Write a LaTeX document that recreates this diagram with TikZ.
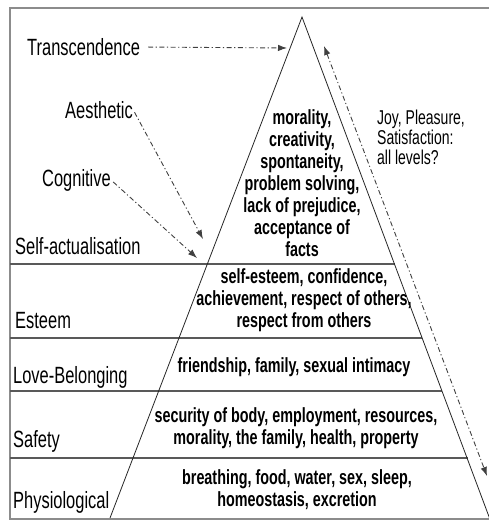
\documentclass[tikz,border=0pt]{standalone}
\usepackage{fontspec}
\setmainfont{Liberation Sans}[FakeStretch=0.70]
\usetikzlibrary{arrows.meta}

\begin{document}
\begin{tikzpicture}[x=1pt,y=-1pt,>={Latex[length=9pt,width=6.5pt]},
                    frame/.style={draw=black!45,line width=1.6pt},
                    level/.style={draw=black!65,line width=1.3pt},
                    side/.style={draw=black!85,line width=0.8pt},
                    dashdot/.style={draw=black!75,line width=0.9pt,
                      dash pattern=on 5pt off 2.5pt on 1.2pt off 2.5pt},
                    lbl/.style={anchor=base west,inner sep=0pt,
                      font=\fontsize{23.5}{25}\selectfont},
                    need/.style={align=center,inner sep=0pt,
                      font=\fontsize{20.5}{22}\selectfont\bfseries}]

  \useasboundingbox (0,0) rectangle (489,522);

  % frame and levels
  \draw[frame] (489,8) -- (10,8) -- (10,519) -- (489,519);
  \draw[level] (10,264) -- (394.7,264);
  \draw[level] (10,338) -- (422.4,338);
  \draw[level] (10,391) -- (442.3,391);
  \draw[level] (10,458) -- (467.5,458);

  % pyramid
  \coordinate (apex) at (302,17);
  \coordinate (bl) at (110,518);
  \coordinate (br) at (489.5,518);
  \draw[side] (bl) -- (apex) -- (br);

  % level names
  \node[lbl] (t)  at (27,55)  {Transcendence};
  \node[lbl] (ae) at (65,118) {Aesthetic};
  \node[lbl] (co) at (42,186) {Cognitive};
  \node[lbl] (sa) at (15,254) {Self-actualisation};
  \node[lbl] (es) at (15,328) {Esteem};
  \node[lbl] (lb) at (13,383) {Love-Belonging};
  \node[lbl] (sf) at (13,447) {Safety};
  \node[lbl] (ph) at (13,508) {Physiological};

  % needs inside the pyramid
  \node[need] (top)  at (302,183) {morality,\\creativity,\\spontaneity,\\problem solving,\\lack of prejudice,\\acceptance of\\facts};
  \node[need] (est)  at (304,300) {self-esteem, confidence,\\achievement, respect of others,\\respect from others};
  \node[need] (love) at (294,367) {friendship, family, sexual intimacy};
  \node[need] (safe) at (296,428) {security of body, employment, resources,\\morality, the family, health, property};
  \node[need] (phys) at (297,490) {breathing, food, water, sex, sleep,\\homeostasis, excretion};

  \node[anchor=west,align=left,inner sep=0pt,font=\fontsize{20}{20}\selectfont]
    (joy) at (377,137) {Joy, Pleasure,\\Satisfaction:\\all levels?};

  % arrows
  \coordinate (tT) at (287,48);
  \coordinate (aT) at (203,239);
  \coordinate (cT) at (197,258);
  \coordinate (j1) at (324,46);
  \coordinate (j2) at (487,476);

  \path (t) edge [dashdot,->,shorten <=8pt] (tT);
  \path (ae.east) edge [dashdot,->,shorten <=3pt] (aT);
  \path (co.east) edge [dashdot,->,shorten <=3pt] (cT);
  \path (j1) edge [dashdot,<->] (j2);

\end{tikzpicture}
\end{document}
